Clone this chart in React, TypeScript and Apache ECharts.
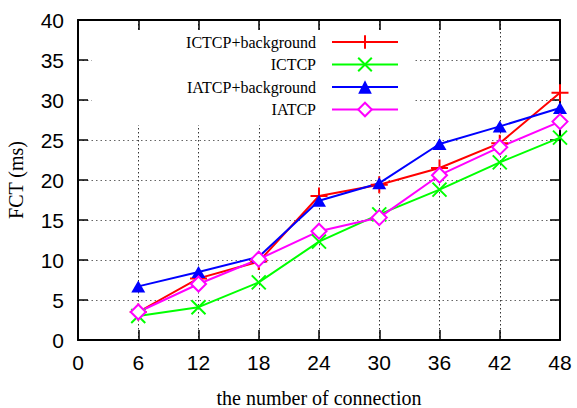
import React, { useEffect, useRef } from "react";
import * as echarts from "echarts";

const connections = [6, 12, 18, 24, 30, 36, 42, 48];
const ictcpBg = [3.5, 7.7, 9.8, 18.0, 19.4, 21.5, 24.6, 30.9];
const ictcp = [3.0, 4.1, 7.2, 12.3, 15.7, 18.8, 22.2, 25.3];
const iatcpBg = [6.7, 8.5, 10.4, 17.4, 19.6, 24.5, 26.7, 29.0];
const iatcp = [3.5, 7.0, 10.1, 13.6, 15.3, 20.6, 24.1, 27.3];
const seriesNames = ["ICTCP+background", "ICTCP", "IATCP+background", "IATCP"];

const pair = (ys: number[]) => connections.map((x, i) => [x, ys[i]]);

export default function App() {
  const ref = useRef<HTMLDivElement>(null);
  useEffect(() => {
    if (!ref.current) return;
    const chart = echarts.init(ref.current, undefined, { renderer: "svg" });
    const serif = "Liberation Serif";
    const sans = "Liberation Sans";
    const axisCommon = {
      type: "value" as const,
      axisLine: { show: true, onZero: false, lineStyle: { color: "#000", width: 2 } },
      axisTick: { show: true, inside: true, length: 10, lineStyle: { color: "#000", width: 1.5 } },
    };
    chart.setOption({
      animation: false,
      backgroundColor: "#fff",
      grid: { left: 78, right: 17, top: 20, bottom: 68, outerBoundsMode: "none", containLabel: false },
      xAxis: [
        {
          ...axisCommon,
          position: "bottom",
          min: 0,
          max: 48,
          interval: 6,
          axisLabel: { fontFamily: sans, fontSize: 21, color: "#000", margin: 12 },
          splitLine: { show: true, lineStyle: { color: "#333", type: [1.5, 2.5], width: 1 } },
          name: "the number of connection",
          nameLocation: "middle",
          nameGap: 48,
          nameTextStyle: { fontFamily: serif, fontSize: 20, color: "#000" },
        },
        {
          ...axisCommon,
          position: "top",
          min: 0,
          max: 48,
          interval: 6,
          axisLabel: { show: false },
          splitLine: { show: false },
        },
      ],
      yAxis: [
        {
          ...axisCommon,
          position: "left",
          min: 0,
          max: 40,
          interval: 5,
          axisLabel: { fontFamily: sans, fontSize: 21, color: "#000", margin: 14 },
          splitLine: { show: true, lineStyle: { color: "#666", type: [1.5, 3], width: 1 } },
          name: "FCT (ms)",
          nameLocation: "middle",
          nameGap: 52,
          nameRotate: 90,
          nameTextStyle: { fontFamily: serif, fontSize: 20, color: "#000" },
        },
        {
          ...axisCommon,
          position: "right",
          min: 0,
          max: 40,
          interval: 5,
          axisLabel: { show: false },
          splitLine: { show: false },
        },
      ],
      graphic: [
        {
          type: "rect",
          z: 1,
          silent: true,
          shape: { x: 92, y: 31, width: 321, height: 94 },
          style: { fill: "#fff" },
        },
      ],
      legend: {
        orient: "vertical",
        align: "right",
        right: 178,
        top: 34,
        padding: 0,
        itemWidth: 66,
        itemHeight: 17,
        itemGap: 6.5,
        z: 10,
        data: seriesNames,
        textStyle: { fontFamily: serif, fontSize: 16, color: "#000", padding: [0, 11, 0, 0] },
      },
      series: [
        {
          name: seriesNames[0],
          type: "line",
          data: pair(ictcpBg),
          symbol: "path://M0,5L10,5M5,0L5,10",
          symbolSize: 17,
          itemStyle: { color: "#ff0000", borderColor: "#ff0000", borderWidth: 2 },
          lineStyle: { color: "#ff0000", width: 2 },
        },
        {
          name: seriesNames[1],
          type: "line",
          data: pair(ictcp),
          symbol: "path://M0,0L10,10M0,10L10,0",
          symbolSize: 14,
          itemStyle: { color: "#00ff00", borderColor: "#00ff00", borderWidth: 2 },
          lineStyle: { color: "#00ff00", width: 2 },
        },
        {
          name: seriesNames[2],
          type: "line",
          data: pair(iatcpBg),
          symbol: "triangle",
          symbolSize: [14, 12],
          itemStyle: { color: "#0000ff" },
          lineStyle: { color: "#0000ff", width: 2 },
        },
        {
          name: seriesNames[3],
          type: "line",
          data: pair(iatcp),
          symbol: "emptyDiamond",
          symbolSize: 15,
          itemStyle: { color: "#ff00ff", borderColor: "#ff00ff", borderWidth: 2 },
          lineStyle: { color: "#ff00ff", width: 2 },
        },
      ],
    });
    return () => chart.dispose();
  }, []);
  return <div ref={ref} style={{ width: 577, height: 408, position: "absolute", left: 0, top: 0 }} />;
}
